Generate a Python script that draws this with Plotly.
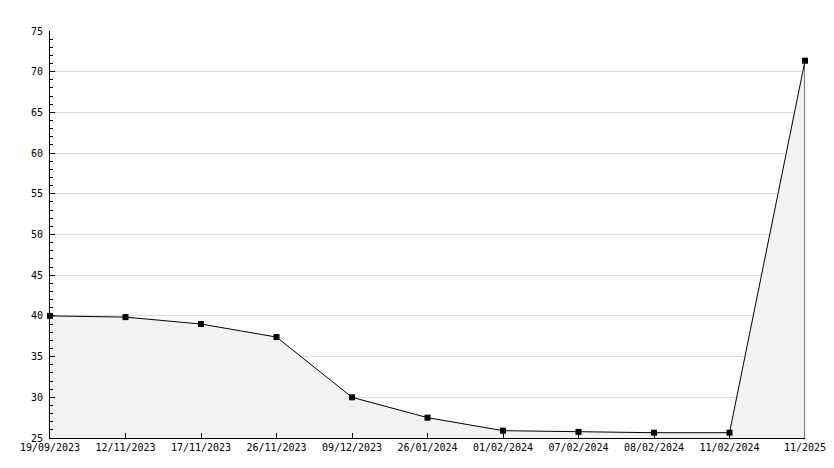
import plotly.graph_objects as go

dates = ["19/09/2023", "12/11/2023", "17/11/2023", "26/11/2023", "09/12/2023",
         "26/01/2024", "01/02/2024", "07/02/2024", "08/02/2024", "11/02/2024", "11/2025"]
values = [40.0, 39.85, 39.0, 37.4, 30.0, 27.5, 25.9, 25.75, 25.65, 25.65, 71.35]
y_min, y_max = 25, 75

font = dict(family="DejaVu Sans Mono", size=10, color="#000000")

fig = go.Figure()
fig.add_trace(go.Scatter(
    x=dates, y=values, mode="lines+markers",
    line=dict(color="#000000", width=1),
    marker=dict(symbol="square", size=6, color="#000000"),
    fill="tozeroy", fillcolor="#f2f2f2",
    cliponaxis=False,
))
fig.add_shape(type="line", xref="x", yref="y",
              x0=dates[-1], x1=dates[-1], y0=y_min, y1=values[-1],
              line=dict(color="#000000", width=1))

fig.update_layout(
    width=826, height=460,
    margin=dict(l=42, r=29, t=23, b=30, autoexpand=False),
    paper_bgcolor="white", plot_bgcolor="white",
    showlegend=False, font=font,
)
fig.update_xaxes(
    type="category", range=[0, len(dates) - 1],
    showline=True, linecolor="#000000", linewidth=1,
    ticks="inside", ticklen=5, tickcolor="#000000",
    showgrid=False, tickfont=font, automargin=False,
)
fig.update_yaxes(
    range=[y_min, y_max], dtick=5, tick0=0,
    showline=True, linecolor="#000000", linewidth=1,
    ticks="inside", ticklen=5, tickcolor="#000000",
    showgrid=True, gridcolor="#dddddd", gridwidth=1,
    minor=dict(ticks="inside", dtick=1, ticklen=3, tickcolor="#000000", showgrid=False),
    zeroline=False, tickfont=font, ticklabelstandoff=4, automargin=False,
)
fig.write_html("out.html")
